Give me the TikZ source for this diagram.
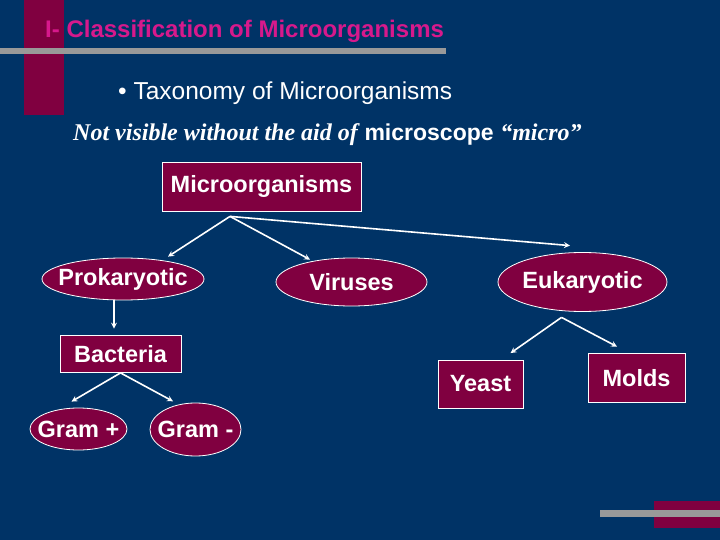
\documentclass[tikz,border=0pt]{standalone}
\usepackage{fontspec}
\setmainfont{Liberation Sans}
\newfontfamily\timesfont{Liberation Serif}
\usetikzlibrary{shapes.geometric}
\definecolor{slideblue}{RGB}{0,51,102}
\definecolor{maroon}{RGB}{128,0,64}
\definecolor{titlepink}{RGB}{215,25,140}
\definecolor{bargray}{RGB}{153,153,153}
\begin{document}
\begin{tikzpicture}[x={(1pt,0pt)}, y={(0pt,-1pt)}]
%styles des noeuds
\tikzstyle{textLine}=[rectangle, text=white, inner sep=0pt, anchor=base west]
\tikzstyle{box}=[rectangle, draw=white, line width=0.8pt, fill=maroon, text=white, inner sep=0pt, font=\fontsize{23.5}{27}\selectfont\bfseries]
\tikzstyle{oval}=[ellipse, draw=white, line width=0.8pt, fill=maroon, text=white, inner sep=0pt, font=\fontsize{23.5}{27}\selectfont\bfseries]
%fond
\fill[slideblue] (0,0) rectangle (720,540);
\fill[maroon] (24,0) rectangle (64,115);
\fill[bargray] (0,48) rectangle (446,54);
\fill[maroon] (654,501) rectangle (720,528);
\fill[bargray] (600,510) rectangle (720,516.5);
%text
\node[textLine, text=titlepink, font=\fontsize{24}{28}\selectfont\bfseries] (title) at (45,38) {I- Classification of Microorganisms};
\node[textLine, font=\fontsize{24.5}{28}\selectfont] (taxo) at (118,100) {\textbullet{} Taxonomy of Microorganisms};
\node[textLine, font=\fontsize{24}{28}\selectfont] (aid) at (73,141) {{\timesfont\bfseries\itshape Not visible without the aid of} {\fontsize{23}{28}\selectfont\bfseries microscope} {\timesfont\bfseries\itshape “micro”}};
%figure
\node[box, minimum width=199pt, minimum height=49pt] (micro) at (261.5,186.5) {Microorganisms};
\node[oval, minimum width=162pt, minimum height=42pt] (proka) at (123,279) {\makebox[0pt]{Prokaryotic}};
\node[oval, minimum width=151pt, minimum height=48pt] (virus) at (351.5,282) {\makebox[0pt]{Viruses}};
\node[oval, minimum width=169pt, minimum height=59pt] (euka) at (582.5,282) {\makebox[0pt]{Eukaryotic}};
\node[box, minimum width=121pt, minimum height=37pt] (bact) at (120.5,354) {Bacteria};
\node[oval, minimum width=97pt, minimum height=42pt] (gplus) at (78.5,429) {\makebox[0pt]{Gram +}};
\node[oval, minimum width=91pt, minimum height=53pt] (gminus) at (195.5,429.5) {\makebox[0pt]{Gram -}};
\node[box, minimum width=85pt, minimum height=48pt] (yeast) at (480.5,384) {Yeast};
\node[box, minimum width=97pt, minimum height=49pt] (molds) at (636.5,378) {Molds};
%vecteur
\tikzstyle{vector}=[-stealth, white, line width=1.6pt]
\coordinate (mSplit) at ([shift={(-31.5,5)}]micro.south);
\coordinate (eSplit) at ([shift={(-21,5.5)}]euka.south);
\draw[vector] (mSplit) -- ([shift={(45,-1)}]proka.north);
\draw[vector] (mSplit) -- ([shift={(-41.5,2)}]virus.north);
\draw[vector] (mSplit) -- ([shift={(-12.5,-6.5)}]euka.north);
\draw[vector] ([shift={(-9,0)}]proka.south) -- ([shift={(-6.5,-6.5)}]bact.north);
\draw[vector] (bact.south) -- ([shift={(-7,-6)}]gplus.north);
\draw[vector] (bact.south) -- ([shift={(-22.5,-1.3)}]gminus.north);
\draw[vector] (eSplit) -- ([shift={(30,-6.5)}]yeast.north);
\draw[vector] (eSplit) -- ([shift={(-19.5,-6.5)}]molds.north);
\end{tikzpicture}
\end{document}
